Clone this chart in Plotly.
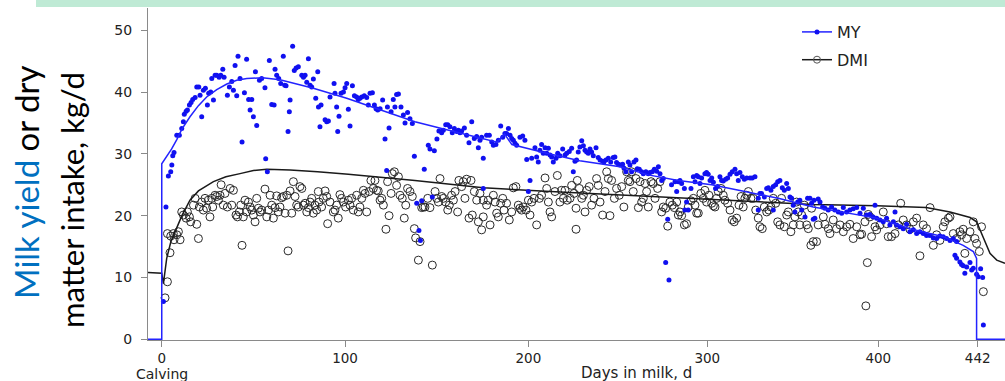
import plotly.graph_objects as go

# ---------------- data (x in plotted day units) ----------------
my_day = [0.9, 2.3, 3.6, 4.9, 5.5, 6.0, 6.7, 8.2, 9.6, 10.9, 11.8, 12.3, 13.3, 14.0, 15.1, 16.0, 16.9,
          18.2, 19.1, 20.2, 20.9, 21.8, 22.7, 23.8, 24.9, 25.6, 26.7, 27.3, 28.2, 29.1, 30.0, 31.3,
          32.2, 33.3, 34.0, 35.8, 36.9, 38.2, 39.1, 40.0, 40.9, 41.6, 42.7, 43.8, 45.1, 46.3, 47.4,
          48.2, 49.1, 50.0, 51.1, 51.8, 53.3, 54.5, 56.3, 56.7, 57.6, 58.7, 60.0, 61.3, 61.8, 62.7,
          63.8, 64.9, 66.3, 67.1, 67.8, 68.9, 69.6, 70.0, 71.4, 72.3, 73.3, 74.5, 76.4, 77.3, 78.2,
          79.1, 80.0, 80.9, 81.8, 82.7, 84.0, 85.1, 85.5,
          86.9, 86.3, 89.1, 90.0, 90.9, 91.8, 94.0, 94.5, 95.4, 96.0, 96.7, 97.8, 99.1, 100.0, 100.9,
          101.8, 102.7, 104.0, 105.1, 106.3, 107.2, 108.1, 109.1, 110.5, 111.8, 112.7, 113.6, 114.9,
          116.0, 116.9, 117.8, 119.1, 120.5, 121.8, 122.7, 123.1, 124.0, 125.1, 126.3, 127.2, 128.1,
          129.1, 130.5, 131.8, 132.7, 134.1, 135.4, 136.7, 137.8, 139.1, 140.3, 141.1, 141.8, 143.2,
          145.4, 146.3, 147.6, 148.7, 150.1, 151.2, 152.7, 153.6, 154.9, 156.0, 157.2, 158.5, 159.6,
          160.9, 161.8, 162.7, 163.6, 165.1, 166.3, 167.6, 169.1, 170.5, 171.8, 172.7, 173.6, 175.4,
          175.4,
          174.5, 177.2, 178.7, 180.0, 180.9, 182.3, 183.6, 184.9, 186.0, 187.2, 188.1, 189.1, 190.0,
          190.9, 191.8, 192.7, 193.6, 195.4, 196.9, 198.1, 199.1, 200.0, 200.9, 201.8, 203.6, 204.5,
          205.4, 206.3, 207.2, 208.1, 209.1, 210.0, 210.9, 211.8, 212.7, 213.6, 215.1, 216.0, 217.2,
          218.7, 220.0, 220.9, 222.3, 223.6, 224.5, 225.4, 226.3, 227.2, 228.1, 229.1, 230.0, 230.9,
          231.8, 232.7, 233.6, 234.5, 235.4, 236.9, 238.1, 239.1, 240.5, 241.2, 242.3, 243.6, 244.9,
          246.3, 247.2, 248.1, 249.1, 250.0, 251.4, 252.1, 253.2, 254.5, 255.4, 256.3, 257.6, 258.7,
          259.4, 260.5, 261.8, 262.7, 264.1, 265.4,
          266.3, 267.6, 268.7, 270.0, 270.9, 271.8, 272.7, 273.6, 274.9, 276.0, 276.7, 278.1, 280.0,
          280.9, 281.8, 282.7, 283.6, 285.1, 285.4, 286.3, 287.2, 288.7, 290.0, 290.9, 291.8, 292.7,
          293.6, 294.5, 296.3, 297.2, 298.1, 299.1, 300.0, 300.9, 302.1, 303.2, 304.5, 305.4, 306.3,
          307.6, 308.7, 310.0, 311.2, 312.7, 313.6, 314.5, 315.4, 316.7, 317.8, 319.1, 320.9, 322.1,
          323.6, 325.4, 325.4, 326.3, 327.2, 328.7, 330.0, 330.9, 332.3, 333.6, 333.6, 334.9, 336.0,
          337.2, 338.5, 339.6, 340.9, 341.8, 342.7, 343.6, 344.5, 345.4, 346.9, 348.1, 349.1, 350.9,
          352.3, 353.6, 354.5, 355.4,
          355.8, 358.1, 356.3, 359.1, 360.5, 361.8, 363.6, 365.4, 367.2, 369.1, 370.9, 371.8, 373.6,
          375.4, 377.2, 379.1, 380.9, 382.7, 384.5, 386.3, 388.1, 389.1, 390.0, 391.8, 393.6, 395.4,
          397.2, 399.1, 400.0, 400.9, 402.7, 404.5, 406.3, 408.1, 410.0, 411.8, 413.6, 415.4, 417.2,
          419.1, 420.9, 422.7, 424.5, 426.3, 428.1, 430.0, 431.8, 432.7, 433.6, 433.6, 435.4, 436.3,
          437.2, 438.1, 439.1, 440.9, 441.8, 442.7, 444.5, 445.4, 446.7, 447.8, 448.2]
my_val = [6.1, 21.4, 26.4, 27.1, 28.2, 29.7, 30.2, 33.0, 33.0, 34.1, 35.2, 36.4, 36.9, 37.1, 37.9, 38.3, 38.8,
          39.1, 40.8, 40.8, 39.5, 36.0, 40.3, 40.6, 37.9, 39.8, 40.0, 42.2, 38.7, 42.7, 42.7, 42.4,
          42.7, 43.7, 42.4, 39.5, 40.8, 41.7, 40.3, 44.3, 39.4, 45.8, 42.2, 31.9, 39.9, 45.3, 38.8,
          37.1, 38.8, 36.0, 43.3, 34.6, 41.9, 42.2, 40.7, 29.2, 27.1, 45.1, 38.0, 37.9, 43.7, 42.7,
          42.2, 41.4, 45.8, 41.1, 41.0, 33.6, 36.8, 38.7, 47.4, 43.5, 43.9, 44.1, 42.7, 42.4, 42.7,
          41.6, 45.4, 41.1, 40.8, 42.1, 39.0, 43.3, 37.6,
          37.9, 34.4, 35.5, 35.2, 35.3, 39.2, 41.4, 39.8, 37.6, 33.6, 36.1, 39.8, 40.0, 40.7, 41.4,
          37.2, 34.5, 41.0, 39.4, 39.2, 38.8, 39.0, 39.2, 39.4, 39.1, 37.9, 39.8, 39.9,
          37.9, 37.3, 37.1, 37.3, 38.7, 32.4, 27.3, 37.6, 34.2, 36.8, 38.8, 37.6, 39.6,
          39.7, 37.6, 36.3, 35.0, 36.7, 35.7, 34.9, 29.6, 22.0, 17.6, 16.0, 22.4, 27.5,
          31.4, 30.8, 23.0, 30.5, 32.4, 33.7, 33.4, 33.8, 34.7, 34.7, 34.4, 33.4, 34.1,
          33.6, 33.8, 33.4, 33.7, 34.2, 33.0, 31.8, 35.2, 32.5, 32.8, 31.0, 32.2, 29.3,
          24.4,
          32.7, 33.0, 33.0, 31.9, 31.4, 31.5, 32.2, 34.5, 32.7, 33.3, 33.3, 34.1, 33.0,
          32.5, 32.2, 31.7, 31.4, 32.7, 32.9, 32.2, 29.1, 23.9, 25.7, 29.3, 31.0, 29.5,
          28.7, 30.6, 31.5, 30.1, 31.0, 30.1, 30.9, 29.8, 29.5, 28.7, 29.3, 30.1, 29.7,
          30.8, 29.8, 30.1, 30.4, 30.9, 27.1, 28.8, 29.0, 30.3, 31.1, 32.1, 31.3, 30.6,
          30.3, 30.1, 30.8, 30.3, 29.7, 31.0, 29.4, 29.0, 28.8, 28.7, 29.0, 29.3, 28.7,
          29.4, 29.5, 28.6, 28.3, 28.2, 28.3, 27.7, 27.1, 28.7, 28.2, 27.1, 28.7, 29.0,
          27.6, 27.5, 27.1, 26.8, 27.1, 26.8,
          27.0, 27.1, 27.5, 27.2, 27.9, 26.8, 25.7, 26.0, 12.4, 19.4, 9.6, 25.0, 25.5,
          23.9, 25.5, 25.7, 25.2, 24.4, 20.9, 22.2, 20.9, 24.4, 26.3, 25.5, 26.5, 26.3,
          25.2, 26.1, 26.8, 27.0, 26.7, 25.7, 26.1, 25.4, 24.4, 24.7, 26.3, 25.7, 25.6,
          25.9, 26.1, 26.7, 27.1, 27.5, 26.8, 25.7, 27.0, 26.3, 25.9, 26.1, 26.1, 26.1,
          26.3, 22.8, 20.9, 23.6, 23.6, 23.0, 24.4, 24.5, 24.1, 24.7, 20.9, 25.0, 25.5,
          25.7, 24.5, 24.1, 25.2, 24.4, 23.0, 22.8, 21.7, 20.6, 22.2, 22.5, 20.9, 19.8,
          22.8, 22.8, 22.0, 19.4,
          22.5, 22.7, 19.6, 22.2, 21.4, 21.2, 20.9, 21.4, 20.9, 20.6, 20.4, 21.3, 20.6,
          20.9, 21.1, 21.3, 20.4, 21.2, 20.1, 20.2, 19.8, 21.7, 19.6, 19.3, 19.0, 19.6,
          18.5, 19.0, 20.6, 18.5, 18.2, 17.9, 18.6, 17.4, 17.7, 17.1, 17.4, 17.1, 16.8,
          16.8, 16.4, 16.3, 16.7, 16.6, 16.3, 16.0, 16.3, 13.6, 15.8, 13.1, 12.5, 12.1,
          11.9, 10.7, 11.7, 12.4, 11.2, 11.5, 10.5, 10.1, 11.4, 10.0, 2.3]

dmi_day = [1.8, 3.1, 4.5, 3.1, 4.9, 6.3, 6.7, 8.2, 9.1, 10.0, 10.9, 11.8, 13.3, 14.0, 15.1, 15.8, 17.3,
           18.2, 19.1, 20.0, 20.5, 21.8, 22.7, 23.6, 24.5, 25.4, 26.3, 27.3, 27.8, 29.1, 30.0, 30.9,
           31.8, 32.4, 33.6, 34.5, 35.8, 37.3, 38.2, 39.1, 40.5, 41.3, 42.3, 43.1, 43.8, 44.5, 45.4,
           46.3, 47.3, 48.2, 49.1, 50.0, 50.9, 51.8, 52.7, 53.6, 54.5, 56.3, 57.3, 58.2, 59.1, 60.0,
           60.9, 61.8, 62.7, 63.6, 64.5, 65.4, 66.3, 67.3, 68.2, 68.9, 70.0, 70.9, 71.8, 72.7, 73.6,
           74.5, 75.4, 76.4, 77.3, 78.2, 79.1, 80.0, 80.9, 81.8, 82.7, 83.6, 84.5, 85.4,
           85.8, 87.2, 88.1, 89.1, 90.0, 90.5, 91.8, 93.6, 94.5, 95.4, 96.3, 97.2, 98.1, 99.1, 100.3,
           101.8, 102.7, 103.6, 104.5, 106.3, 107.2, 108.1, 109.1, 110.0, 110.9, 111.8, 113.1, 114.1,
           115.4, 116.3, 117.2, 118.1, 119.1, 120.0, 120.9, 122.3, 123.2, 124.0, 125.1, 125.8, 126.9,
           128.1, 129.1, 130.0, 131.2, 132.3, 133.1, 134.1, 135.4, 136.7, 137.8, 138.5, 140.0, 140.9,
           141.8, 142.7, 143.6, 145.1, 146.3, 147.6, 149.1, 150.0, 150.9, 151.8, 152.7, 153.6, 154.9,
           156.0, 156.9, 158.1, 159.1, 160.0, 161.4, 162.1, 163.6, 164.5, 165.4, 166.3, 167.6, 168.7,
           169.4, 170.5, 171.8, 172.7, 173.6, 174.5, 175.4,
           175.4, 177.2, 178.1, 179.1, 180.9, 181.8, 182.7, 183.6, 184.9, 186.0, 186.7, 188.1, 189.6,
           190.9, 191.8, 193.2, 194.5, 195.4, 196.3, 197.2, 198.7, 200.0, 200.9, 201.8, 203.1, 204.5,
           206.0, 207.2, 209.1, 210.0, 210.9, 211.8, 212.7, 214.5, 215.8, 217.2, 218.1, 219.1, 220.0,
           221.2, 222.7, 223.6, 224.9, 226.0, 226.0, 226.7, 227.8, 229.1, 230.0, 230.9, 231.8, 233.2,
           234.5, 235.8, 237.2, 238.1, 239.1, 240.5, 241.8, 242.7, 243.6, 244.5, 245.4, 246.9, 248.1,
           249.6, 250.9, 252.1, 253.6, 254.5, 255.4, 256.3, 257.2, 258.7, 260.0, 260.9, 261.8, 262.7,
           263.6, 264.5, 265.4,
           266.9, 268.1, 269.1, 270.5, 271.8, 272.7, 273.6, 274.9, 276.0, 277.2, 278.5, 279.6, 280.9,
           281.8, 282.7, 283.6, 285.1, 286.3, 287.2, 288.7, 290.0, 290.9, 291.8, 292.7, 294.1, 295.4,
           296.3, 297.2, 298.5, 300.0, 300.9, 301.8, 302.7, 303.6, 305.1, 306.3, 307.2, 308.7, 310.0,
           311.2, 312.3, 313.6, 314.9, 316.0, 317.2, 318.1, 319.1, 320.0, 321.4, 322.7, 324.0, 325.4,
           326.3, 327.6, 328.7, 330.0, 331.2, 332.3, 333.6, 334.9, 336.0, 337.2, 338.1, 339.6, 340.9,
           341.8, 343.2, 344.5, 345.4, 346.3, 347.2, 348.1, 349.1, 350.5, 351.8, 352.7, 354.1, 354.5,
           355.4,
           357.2, 358.1, 360.9, 361.8, 363.6, 364.5, 366.3, 368.1, 370.0, 371.8, 373.6, 375.4, 377.2,
           379.1, 380.9, 381.8, 383.6, 384.9, 384.1, 385.4, 386.3, 387.2, 389.1, 390.0, 391.8, 393.6,
           395.4, 396.3, 398.1, 400.0, 401.8, 403.1, 404.5, 406.3, 408.1, 410.0, 411.8, 413.6, 415.4,
           417.2, 419.1, 420.9, 422.7, 424.5, 426.3, 427.2, 429.1, 430.0, 431.8, 433.6, 435.4, 436.3,
           437.2, 438.1, 439.1, 440.9, 442.7, 443.6, 444.5, 446.0, 447.2, 448.2]
dmi_val = [6.7, 9.3, 14.0, 17.1, 16.7, 17.1, 16.1, 16.9, 17.4, 16.1, 20.6, 20.1, 19.6, 20.6, 19.8, 19.0, 21.7,
           22.8, 18.6, 16.3, 21.4, 22.2, 20.9, 22.8, 21.2, 22.5, 19.8, 22.8, 21.4, 23.3, 23.1, 22.5,
           23.3, 25.0, 21.7, 23.6, 21.4, 24.4, 21.7, 24.1, 20.1, 19.8, 20.6, 21.7, 15.2, 19.8, 22.5,
           20.6, 22.2, 21.4, 20.9, 20.1, 19.0, 22.8, 21.2, 20.6, 20.9, 24.3, 19.8, 20.9, 23.3, 21.7,
           19.6, 21.3, 23.2, 20.6, 21.4, 22.9, 23.1, 20.4, 23.3, 14.3, 24.0, 20.4, 25.5, 23.1, 21.7,
           21.4, 24.7, 24.4, 21.7, 22.0, 20.6, 21.3, 22.2, 22.8, 20.4, 21.7, 20.9, 23.9,
           22.2, 21.4, 22.8, 24.0, 23.1, 18.7, 22.2, 20.6, 20.9, 21.7, 19.6, 23.4, 22.8, 22.2, 21.4,
           22.5, 21.7, 22.8, 20.9, 23.3, 20.6, 21.4, 22.8, 24.1, 23.6, 20.6, 23.9, 25.7,
           24.4, 25.7, 24.1, 24.0, 22.5, 22.8, 21.7, 17.8, 25.5, 20.0, 23.6, 26.8, 27.1,
           24.9, 26.3, 23.3, 22.8, 19.6, 21.7, 24.4, 23.9, 23.1, 17.9, 16.4, 12.8, 15.8,
           21.3, 21.4, 21.4, 22.8, 21.3, 12.0, 23.9, 22.8, 22.2, 26.0, 23.1, 22.8, 22.2,
           20.9, 21.7, 23.3, 22.5, 23.9, 20.6, 25.7, 24.7, 25.5, 22.8, 25.9, 19.6, 25.7,
           20.1, 23.9, 22.5, 19.0, 23.6, 17.7, 22.5,
           19.8, 21.7, 22.5, 18.5, 23.3, 22.2, 20.4, 19.8, 22.0, 22.8, 20.9, 22.0, 19.3,
           20.6, 24.5, 24.7, 21.7, 21.2, 20.9, 21.4, 20.9, 22.5, 20.1, 22.2, 22.8, 18.5,
           22.8, 23.3, 26.1, 24.4, 22.2, 20.6, 19.8, 23.9, 26.5, 22.2, 24.1, 22.8, 24.1,
           22.5, 22.8, 24.9, 23.6, 21.2, 17.8, 25.7, 24.4, 22.8, 23.3, 20.6, 24.1, 24.7,
           21.7, 22.8, 26.0, 24.9, 22.2, 20.1, 23.9, 27.1, 26.0, 20.0, 25.7, 22.8, 24.4,
           23.3, 24.7, 21.4, 27.1, 25.7, 25.5, 27.1, 23.9, 26.0, 21.3, 25.5, 22.2, 22.8,
           25.2, 23.9, 21.4,
           25.5, 25.2, 22.8, 24.4, 25.5, 20.6, 21.4, 21.2, 18.3, 22.2, 21.7, 21.3, 22.2,
           20.1, 20.6, 20.0, 18.5, 18.7, 21.4, 22.4, 22.8, 21.7, 20.4, 20.4, 23.6, 22.8,
           24.1, 22.2, 23.3, 22.0, 21.6, 21.4, 22.8, 23.9, 24.4, 23.3, 22.5, 22.0, 20.9,
           19.3, 19.0, 19.6, 21.7, 23.1, 21.4, 22.8, 23.3, 23.9, 22.8, 22.8, 20.9, 19.6,
           18.2, 17.9, 21.4, 20.6, 20.9, 21.4, 22.8, 22.0, 19.0, 18.5, 22.8, 18.2, 20.1,
           20.6, 17.4, 18.5, 19.8, 22.2, 20.6, 18.5, 20.1, 21.7, 18.5, 17.9, 15.2, 21.2,
           15.8,
           15.8, 18.5, 19.8, 18.6, 17.9, 17.1, 19.3, 17.9, 18.5, 17.4, 18.2, 18.6, 16.3,
           18.2, 16.9, 17.0, 19.0, 12.4, 5.4, 20.2, 19.8, 16.6, 18.2, 17.7, 18.5, 20.6,
           18.7, 16.6, 16.6, 17.1, 18.5, 22.0, 19.3, 18.5, 17.8, 19.0, 19.6, 13.5, 18.5,
           17.9, 21.3, 15.2, 16.9, 16.0, 18.2, 19.0, 19.6, 19.8, 17.1, 16.3, 17.4, 16.9,
           17.8, 13.9, 16.3, 17.4, 19.0, 16.3, 15.5, 14.2, 18.2, 7.7]

# fitted curves
my_fit_day = [-7.5, 0.0, 0.0, 2.7, 5.4, 8.2, 11.0, 15.4, 20.0, 24.5, 30.0, 35.5, 40.9, 46.4, 55.0,
              64.5, 82.7, 100.9, 120.0, 138.1, 152.7, 173.6, 183.0, 187.0, 191.0, 210.0, 228.0,
              250.0, 265.4, 281.8, 300.0, 318.1, 336.3, 355.4, 371.8, 390.0, 408.1, 426.3, 437.2,
              442.7, 444.5, 444.5, 460.0]
my_fit_val = [0.0, 0.0, 28.4, 29.5, 30.8, 32.3, 34.0, 36.0, 37.8, 39.2, 40.4, 41.3, 41.9, 42.2, 42.3,
              42.0, 40.6, 39.0, 37.1, 35.2, 34.1, 32.5, 31.9, 33.2, 31.5, 30.1, 28.9,
              27.9, 26.6, 25.7, 25.0, 23.9, 22.8, 21.4, 20.6, 19.6, 17.9, 16.6, 15.2,
              14.2, 13.1, 0.0, 0.0]
dmi_fit_day = [-7.5, 0.0, 0.9, 2.7, 5.0, 8.2, 11.0, 15.4, 20.0, 28.2, 35.0, 42.7, 50.0, 57.3, 70.0,
               85.0, 101.8, 138.1, 175.4, 220.0, 265.4, 310.0, 355.4, 390.0, 417.0, 430.0, 441.0,
               444.5, 448.2, 451.8, 455.5, 460.0]
dmi_fit_val = [10.8, 10.7, 9.0, 13.1, 15.8, 18.2, 20.0, 22.5, 24.0, 25.5, 26.3, 26.8, 27.3, 27.5, 27.4,
               27.1, 26.7, 25.7, 24.5, 23.8, 23.1, 22.5, 21.8, 21.6, 21.3, 20.6, 19.7,
               19.0, 16.3, 13.9, 12.8, 12.3]

x_tick_vals = [0, 100, 200, 297.6, 390.9, 445.1]
x_tick_text = ["0", "100", "200", "300", "400", "442"]
y_tick_vals = [0, 10, 20, 30, 40, 50]

BLUE = "#1010f0"
BLACK = "#1a1a1a"

fig = go.Figure()
fig.add_trace(go.Scatter(x=dmi_day, y=dmi_val, mode="markers", showlegend=False,
                         marker=dict(symbol="circle-open", size=8, color="#2a2a2a",
                                     line=dict(width=1, color="#2a2a2a"))))
fig.add_trace(go.Scatter(x=dmi_fit_day, y=dmi_fit_val, mode="lines", showlegend=False,
                         line=dict(color=BLACK, width=1.5)))
fig.add_trace(go.Scatter(x=my_day, y=my_val, mode="markers", showlegend=False,
                         marker=dict(symbol="circle", size=5, color=BLUE)))
fig.add_trace(go.Scatter(x=my_fit_day, y=my_fit_val, mode="lines", showlegend=False,
                         line=dict(color="#2323ff", width=1.5)))
# legend entries
fig.add_trace(go.Scatter(x=[None], y=[None], mode="lines+markers", name="MY", legendgroup="a",
                         line=dict(color="#2323ff", width=1.5),
                         marker=dict(symbol="circle", size=5, color=BLUE)))
fig.add_trace(go.Scatter(x=[None], y=[None], mode="lines+markers", name="DMI", legendgroup="b",
                         line=dict(color=BLACK, width=1.5),
                         marker=dict(symbol="circle-open", size=7, color="#555",
                                     line=dict(width=1, color="#555"))))

W, H = 1005, 381
L, R, T, B = 148, 0, 8, 41
pw, ph = W - L - R, H - T - B


def px_x(p):
    return (p - L) / pw


def px_y(p):
    return (H - B - p) / ph


fig.update_layout(
    width=W, height=H,
    margin=dict(l=L, r=R, t=T, b=B),
    paper_bgcolor="white", plot_bgcolor="white",
    font=dict(family="DejaVu Sans", size=14, color="#222"),
    xaxis=dict(range=[-7.5, 460], showgrid=False, zeroline=False, showline=True,
               linecolor="#8a8a8a", linewidth=1.2, ticks="outside", ticklen=6,
               tickcolor="#8a8a8a", tickwidth=1.2, tickvals=x_tick_vals, ticktext=x_tick_text,
               tickfont=dict(family="DejaVu Sans", size=13.5, color="#222")),
    yaxis=dict(range=[-0.12, 53.6], showgrid=False, zeroline=False, showline=True,
               linecolor="#8a8a8a", linewidth=1.2, ticks="outside", ticklen=6,
               tickcolor="#8a8a8a", tickwidth=1.2, tickvals=y_tick_vals,
               ticklabelstandoff=6,
               tickfont=dict(family="DejaVu Sans", size=14, color="#222")),
    legend=dict(x=px_x(797), y=px_y(15), xanchor="left", yanchor="top",
                bgcolor="rgba(0,0,0,0)", tracegroupgap=4,
                font=dict(family="DejaVu Sans", size=16, color="#222")),
    shapes=[dict(type="rect", xref="paper", yref="paper",
                 x0=px_x(36), x1=1.0, y0=px_y(7), y1=px_y(0),
                 fillcolor="#bfead5", line=dict(width=0), layer="above")],
    annotations=[
        dict(text="Calving", xref="x", yref="paper", x=0, y=px_y(374),
             xanchor="center", yanchor="middle", showarrow=False,
             font=dict(family="DejaVu Sans", size=14, color="#222")),
        dict(text="Days in milk, d", xref="paper", yref="paper", x=px_x(636), y=px_y(373),
             xanchor="center", yanchor="middle", showarrow=False,
             font=dict(family="DejaVu Sans", size=15, color="#222")),
        dict(text="<span style='color:#0070c0'>Milk yield</span> or dry", xref="paper", yref="paper",
             x=px_x(26), y=px_y(182), xanchor="center", yanchor="middle", textangle=-90,
             showarrow=False, font=dict(family="Lato", size=33, color="#000")),
        dict(text="matter intake, kg/d", xref="paper", yref="paper",
             x=px_x(72), y=px_y(200), xanchor="center", yanchor="middle", textangle=-90,
             showarrow=False, font=dict(family="Lato", size=31, color="#000")),
    ],
)

fig.write_html("out.html", post_script="document.body.style.margin='0';",
               config={"displayModeBar": False})
